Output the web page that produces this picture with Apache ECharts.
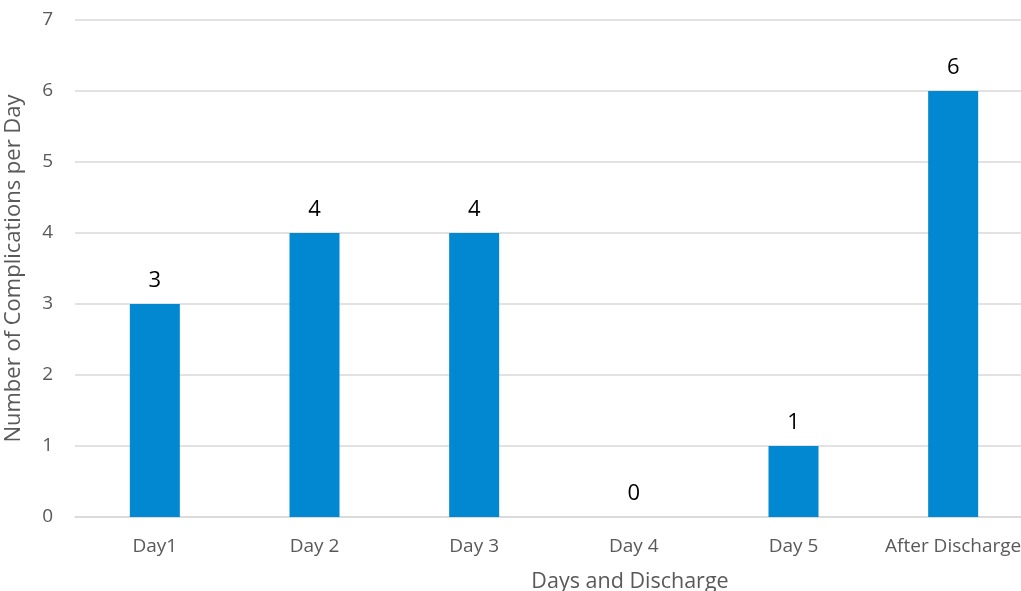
<!DOCTYPE html>
<html>
<head>
<meta charset="utf-8">
<script src="https://cdn.jsdelivr.net/npm/echarts@6/dist/echarts.min.js"></script>
<style>
  html, body { margin: 0; padding: 0; background: #fff; }
  .main { width: 1021px; height: 591px; }
</style>
</head>
<body>
<div class="main"></div>
<script>
// categories and values
var days = ['Day1', 'Day 2', 'Day 3', 'Day 4', 'Day 5', 'After Discharge'];
var complications = [3, 4, 4, 0, 1, 6];

(function() {
  var myChart = echarts.init(document.querySelector(".main"));
  var font = 'Open Sans';
  var option = {
    animation: false,
    grid: {
      left: 75,
      right: -12,
      top: 20,
      bottom: 74,
      outerBoundsMode: 'none'
    },
    xAxis: {
      type: 'category',
      data: days,
      name: 'Days and Discharge',
      nameLocation: 'middle',
      nameGap: 54,
      nameTextStyle: {
        color: '#595959',
        fontSize: 21.5,
        fontFamily: font,
        padding: [0, 0, 0, 152]
      },
      axisTick: { show: false },
      axisLine: { lineStyle: { color: '#d9d9d9', width: 1.5 } },
      axisLabel: {
        interval: 0,
        color: '#595959',
        fontSize: 19,
        fontFamily: font,
        margin: 20
      }
    },
    yAxis: {
      type: 'value',
      min: 0,
      max: 7,
      interval: 1,
      name: 'Number of Complications per Day',
      nameLocation: 'middle',
      nameGap: 50,
      nameTextStyle: {
        color: '#595959',
        fontSize: 22,
        fontFamily: font
      },
      axisLabel: {
        color: '#595959',
        fontSize: 19,
        fontFamily: font,
        margin: 22
      },
      splitLine: { lineStyle: { color: '#d9d9d9', width: 1.5 } }
    },
    series: [
      {
        type: 'bar',
        data: complications,
        barWidth: 50,
        itemStyle: { color: '#0288d1' },
        label: {
          show: true,
          position: 'top',
          distance: 12,
          color: '#000',
          fontSize: 22,
          fontFamily: font
        }
      }
    ]
  };
  myChart.setOption(option);
  window.addEventListener("resize", function() {
    myChart.resize();
  });
})();
</script>
</body>
</html>
